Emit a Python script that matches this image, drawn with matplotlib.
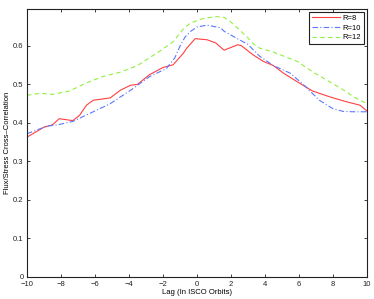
import matplotlib
matplotlib.use("Agg")
import matplotlib.pyplot as plt

plt.rcParams["font.family"] = ["Liberation Sans", "DejaVu Sans"]

# lag (ISCO orbits) and cross-correlation for each radius
lag_r8 = [-10, -9.0, -8.5, -8.1, -7.3, -6.9, -6.5, -6.1, -5.1, -4.5, -3.9, -3.5,
          -2.8, -2.0, -1.4, -0.8, -0.6, -0.1, 0.6, 1.1, 1.6, 2.4, 2.6, 3.3, 3.9,
          4.5, 5.1, 5.9, 6.8, 7.8, 8.8, 9.6, 10]
corr_r8 = [0.362, 0.388, 0.394, 0.410, 0.405, 0.419, 0.445, 0.458, 0.464, 0.484,
           0.497, 0.499, 0.524, 0.543, 0.550, 0.580, 0.593, 0.618, 0.615, 0.607,
           0.588, 0.602, 0.600, 0.576, 0.559, 0.548, 0.528, 0.506, 0.482, 0.467,
           0.454, 0.445, 0.430]

lag_r10 = [-10, -8.8, -8.2, -7.3, -6.1, -5.1, -3.9, -2.8, -1.8, -1.3, -1.0, -0.7,
           -0.4, 0.0, 0.6, 1.4, 1.6, 2.5, 3.0, 3.7, 4.5, 5.5, 6.4, 7.2, 8.0, 8.6,
           9.2, 10]
corr_r10 = [0.371, 0.391, 0.394, 0.403, 0.428, 0.449, 0.484, 0.519, 0.540, 0.568,
            0.598, 0.622, 0.636, 0.648, 0.653, 0.646, 0.637, 0.615, 0.603, 0.572,
            0.548, 0.528, 0.493, 0.458, 0.436, 0.429, 0.428, 0.428]

lag_r12 = [-10, -9.2, -8.5, -7.5, -6.5, -5.5, -4.5, -3.5, -2.8, -2.2, -1.4, -0.8,
           -0.4, 0.2, 0.6, 1.2, 1.6, 1.9, 2.5, 3.0, 3.3, 3.7, 4.5, 4.9, 5.9, 6.8,
           7.8, 8.8, 9.2, 10]
corr_r12 = [0.471, 0.476, 0.473, 0.482, 0.503, 0.520, 0.531, 0.548, 0.568, 0.585,
            0.610, 0.643, 0.658, 0.668, 0.672, 0.675, 0.673, 0.665, 0.641, 0.620,
            0.605, 0.593, 0.583, 0.576, 0.559, 0.532, 0.506, 0.480, 0.467, 0.449]

labels = ["R=8", "R=10", "R=12"]
xticks = list(range(-10, 11, 2))
yticks = [0, 0.1, 0.2, 0.3, 0.4, 0.5, 0.6]

fig = plt.figure(figsize=(3.74, 2.99), dpi=100)
ax = fig.add_axes([0.072, 0.075, 0.909, 0.895])

ax.plot(lag_r8, corr_r8, color="#ff4040", lw=0.8, ls="-", label=labels[0])
ax.plot(lag_r10, corr_r10, color="#5a78ff", lw=0.8, ls=(0, (5, 2, 1, 2)), label=labels[1])
ax.plot(lag_r12, corr_r12, color="#90f040", lw=0.8, ls=(0, (4, 3)), label=labels[2])

ax.set_xlim(-10, 10)
ax.set_ylim(0, 0.695)
ax.set_xticks(xticks)
ax.set_xticklabels([("\u2212%d" % -v) if v < 0 else "%d" % v for v in xticks])
ax.set_yticks(yticks)
ax.set_yticklabels(["0" if v == 0 else "%.1f" % v for v in yticks])
ax.tick_params(direction="in", length=2.5, width=0.6, labelsize=5.5,
               top=True, right=True, colors="#222222")
ax.tick_params(axis="x", pad=3)
ax.tick_params(axis="y", pad=2.5)
for s in ax.spines.values():
    s.set_linewidth(0.8)
    s.set_color("#222222")

ax.set_xlabel("Lag (In ISCO Orbits)", fontsize=5.5, labelpad=1)
ax.set_ylabel("Flux/Stress Cross\u2013Correlation", fontsize=5.5, labelpad=1.5)

leg = ax.legend(loc="upper right", fontsize=5.5, handlelength=3.6, handletextpad=0.4,
                borderaxespad=0.35, fancybox=False, framealpha=1, labelspacing=0.3,
                borderpad=0.4)
leg.get_frame().set_edgecolor("#222222")
leg.get_frame().set_linewidth(0.8)

fig.savefig("out.png", dpi=100)
